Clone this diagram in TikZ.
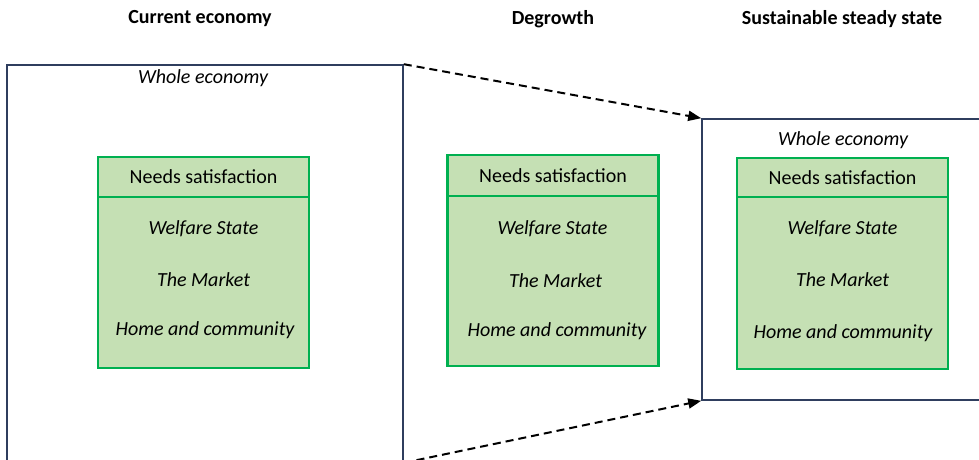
\documentclass[tikz,border=0pt]{standalone}
\usepackage{fontspec}
\setmainfont{Carlito}
\usetikzlibrary{arrows.meta}
\definecolor{needsgreen}{RGB}{0,176,80}
\definecolor{needsfill}{RGB}{197,224,180}
\definecolor{frameblue}{RGB}{47,62,94}
\tikzset{
  txt/.style={font=\fontsize{20}{24}\selectfont, inner sep=0pt},
  ttl/.style={txt, font=\fontsize{20}{24}\selectfont\bfseries},
  itl/.style={txt, font=\fontsize{20}{24}\selectfont\itshape},
  ecobox/.style={draw=frameblue, line width=1.6pt, inner sep=0pt},
  needshead/.style={draw=needsgreen, fill=needsfill, line width=2.5pt, inner sep=0pt,
    minimum width=211pt, minimum height=40pt, txt},
  needsbody/.style={draw=needsgreen, fill=needsfill, line width=2.5pt, inner sep=0pt,
    minimum width=211pt, minimum height=171pt},
  flow/.style={black, line width=2pt, dash pattern=on 8pt off 5pt,
    -{Triangle[length=13pt,width=10pt]}}
}
\begin{document}
\begin{tikzpicture}[x=1pt,y=-1pt]
\useasboundingbox (0,0) rectangle (979,460);
\clip (0,0) rectangle (979,460);

% column titles
\node[ttl] (t1) at (200,19) {Current economy};
\node[ttl] (t2) at (553,19) {Degrowth};
\node[ttl] (t3) at (842,19) {Sustainable steady state};

% whole-economy frames
\node[ecobox, minimum width=396pt, minimum height=397pt] (cur) at (205,263.5) {};
\node[ecobox, minimum width=290pt, minimum height=281pt] (sus) at (847,259.5) {};
\node[itl] (w1) at (203,78) {Whole economy};
\node[itl] (w3) at (843,140) {Whole economy};

% needs satisfaction: current economy
\node[needsbody] (b1) at (203.5,282.5) {};
\node[needshead] (h1) at (203.5,177) {Needs satisfaction};
\node[itl] (a1) at (203.5,229) {Welfare State};
\node[itl] (m1) at (203.5,280) {The Market};
\node[itl] (c1) at (205,330) {Home and community};

% needs satisfaction: degrowth
\node[needsbody, minimum height=170pt] (b2) at (553,281) {};
\node[needshead, minimum height=41pt] (h2) at (553,175.5) {Needs satisfaction};
\node[itl] (a2) at (552.5,229) {Welfare State};
\node[itl] (m2) at (555.5,281) {The Market};
\node[itl] (c2) at (557,331) {Home and community};

% needs satisfaction: steady state
\node[needsbody, minimum height=172pt] (b3) at (842.5,283) {};
\node[needshead, minimum height=39pt] (h3) at (842.5,177.5) {Needs satisfaction};
\node[itl] (a3) at (842.5,229) {Welfare State};
\node[itl] (m3) at (842.5,280) {The Market};
\node[itl] (c3) at (843,333) {Home and community};

% shrinking from the current economy to the steady state
\draw[flow] (cur.north east) -- (sus.north west);
\draw[flow] (cur.south east) -- (sus.south west);
\end{tikzpicture}
\end{document}
